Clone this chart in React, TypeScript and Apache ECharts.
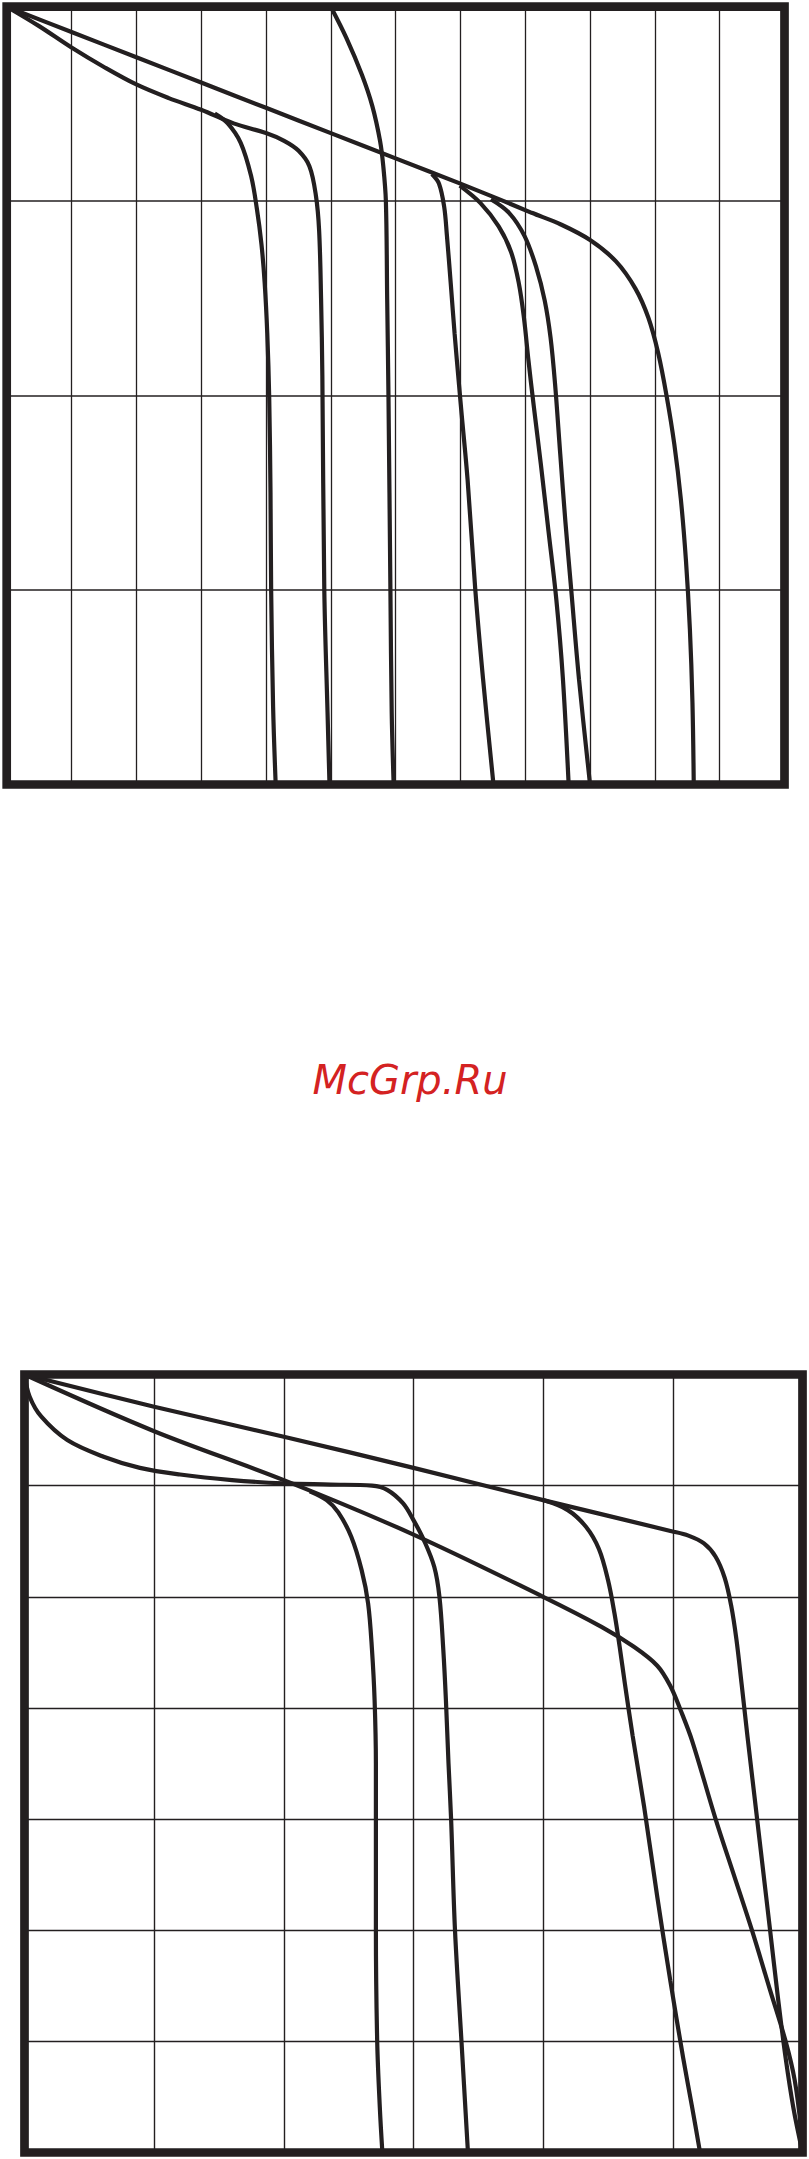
import React, { useEffect, useRef } from "react";
import * as echarts from "echarts";

// Top chart: x 0..12, y 0..4
const topEnvelope: number[][] = [
  [0, 4], [1, 3.87], [2, 3.74], [3, 3.61], [4, 3.48], [5, 3.35], [6, 3.22], [7, 3.09],
  [7.67, 3.0], [8.1, 2.94], [8.55, 2.88], [9.0, 2.8], [9.4, 2.69], [9.7, 2.55],
  [9.9, 2.4], [10.05, 2.22], [10.18, 2.0], [10.3, 1.75], [10.4, 1.47], [10.48, 1.15],
  [10.54, 0.8], [10.58, 0.42], [10.6, 0],
];
const topLower: number[][] = [
  [0, 4], [0.5, 3.9], [1, 3.79], [1.5, 3.69], [2, 3.6], [2.5, 3.53], [3, 3.47],
  [3.5, 3.4], [4, 3.35], [4.28, 3.31], [4.5, 3.26], [4.67, 3.18], [4.77, 3.03],
  [4.82, 2.85], [4.85, 2.5], [4.87, 2.1], [4.9, 1.0], [4.95, 0.37], [4.98, 0],
];
const topBranch: number[][] = [
  [3.21, 3.45], [3.41, 3.4], [3.61, 3.3], [3.77, 3.13], [3.86, 2.96], [3.93, 2.78],
  [3.98, 2.58], [4.02, 2.32], [4.05, 1.99], [4.07, 1.5], [4.08, 1.0], [4.11, 0.4], [4.15, 0],
];
const topSteep: number[][] = [
  [5.0, 4.0], [5.24, 3.84], [5.48, 3.65], [5.64, 3.49], [5.76, 3.31], [5.81, 3.18],
  [5.85, 3.0], [5.87, 2.5], [5.89, 2.0], [5.92, 1.0], [5.94, 0.37], [5.97, 0],
];
const topCurve4: number[][] = [
  [6.56, 3.14], [6.67, 3.09], [6.75, 2.97], [6.79, 2.83], [6.85, 2.58], [6.91, 2.32],
  [6.98, 2.05], [7.02, 1.9], [7.11, 1.57], [7.23, 1.0], [7.35, 0.54], [7.51, 0],
];
const topCurve5: number[][] = [
  [6.99, 3.08], [7.31, 2.99], [7.59, 2.87], [7.78, 2.74], [7.9, 2.58], [7.98, 2.4],
  [8.05, 2.18], [8.13, 1.95], [8.24, 1.65], [8.36, 1.3], [8.48, 0.95], [8.58, 0.55], [8.67, 0],
];
const topCurve6: number[][] = [
  [7.47, 3.01], [7.75, 2.94], [7.99, 2.82], [8.17, 2.66], [8.3, 2.49], [8.39, 2.3],
  [8.46, 2.06], [8.54, 1.7], [8.62, 1.35], [8.71, 1.0], [8.83, 0.54], [9.0, 0],
];

// Bottom chart: x 0..6, y 0..7
const botA: number[][] = [
  [0, 7], [1, 6.71], [2, 6.44], [3, 6.16], [4, 5.87], [4.99, 5.59], [5.12, 5.55],
  [5.24, 5.48], [5.33, 5.36], [5.4, 5.17], [5.45, 4.92], [5.49, 4.62], [5.53, 4.22],
  [5.575, 3.75], [5.63, 3.2], [5.69, 2.6], [5.75, 2.0], [5.81, 1.4], [5.87, 0.85],
  [5.93, 0.4], [6.0, 0],
];
const botE: number[][] = [
  [4.0, 5.87], [4.19, 5.78], [4.33, 5.63], [4.43, 5.43], [4.5, 5.15], [4.55, 4.85],
  [4.59, 4.55], [4.63, 4.22], [4.69, 3.75], [4.78, 3.1], [4.88, 2.3], [4.98, 1.55],
  [5.08, 0.85], [5.15, 0.4], [5.21, 0],
];
const botB: number[][] = [
  [0, 7], [1, 6.49], [2, 6.05], [3, 5.56], [4, 5.0], [4.45, 4.73], [4.7, 4.55],
  [4.88, 4.38], [4.98, 4.2], [5.06, 3.98], [5.15, 3.7], [5.33, 3.0], [5.47, 2.5],
  [5.61, 2.0], [5.75, 1.46], [5.87, 1.0], [5.94, 0.65], [5.99, 0.2], [6.0, 0],
];
const botC: number[][] = [
  [0, 7], [0.04, 6.8], [0.13, 6.62], [0.33, 6.41], [0.61, 6.26], [0.89, 6.16], [1.2, 6.1],
  [1.6, 6.05], [2.0, 6.02], [2.36, 6.01], [2.68, 6.0], [2.8, 5.96], [2.92, 5.84],
  [3.0, 5.69], [3.08, 5.51], [3.16, 5.27], [3.2, 5.0], [3.23, 4.52], [3.25, 4.07],
  [3.27, 3.5], [3.29, 3.0], [3.32, 2.0], [3.37, 1.0], [3.42, 0],
];
const botD: number[][] = [
  [2.2, 5.95], [2.33, 5.87], [2.42, 5.76], [2.52, 5.54], [2.6, 5.24], [2.65, 4.94],
  [2.68, 4.52], [2.7, 4.07], [2.71, 3.5], [2.71, 2.0], [2.72, 1.0], [2.74, 0.41], [2.76, 0],
];

const watermark = "McGrp.Ru";

const INK = "#231f20";

export default function App() {
  const ref = useRef<HTMLDivElement>(null);
  useEffect(() => {
    if (!ref.current) return;
    const chart = echarts.init(ref.current, undefined, { renderer: "svg" });
    const axisCommon = {
      type: "value" as const,
      axisLine: { show: false },
      axisTick: { show: false },
      axisLabel: { show: false },
    };
    const mkLine = (data: number[][], idx: number) => ({
      type: "line" as const,
      xAxisIndex: idx,
      yAxisIndex: idx,
      data,
      showSymbol: false,
      symbol: "none",
      smooth: 0.35,
      lineStyle: { color: INK, width: 4.2 },
      z: 3,
    });
    const topRect = { left: 6.7, top: 6.7, width: 777.8, height: 777.8 };
    const botRect = { left: 24.5, top: 1374.5, width: 778, height: 778 };
    chart.setOption({
      animation: false,
      backgroundColor: "#ffffff",
      grid: [
        { ...topRect, show: false },
        { ...botRect, show: false },
      ],
      xAxis: [
        { ...axisCommon, gridIndex: 0, min: 0, max: 12, interval: 1,
          splitLine: { show: true, lineStyle: { color: INK, width: 1.3 } } },
        { ...axisCommon, gridIndex: 1, min: 0, max: 6, interval: 1,
          splitLine: { show: true, lineStyle: { color: INK, width: 1.4 } } },
      ],
      yAxis: [
        { ...axisCommon, gridIndex: 0, min: 0, max: 4, interval: 1,
          splitLine: { show: true, lineStyle: { color: INK, width: 1.7 } } },
        { ...axisCommon, gridIndex: 1, min: 0, max: 7, interval: 1,
          splitLine: { show: true, lineStyle: { color: INK, width: 1.4 } } },
      ],
      series: [
        mkLine(topEnvelope, 0),
        mkLine(topLower, 0),
        mkLine(topBranch, 0),
        mkLine(topSteep, 0),
        mkLine(topCurve4, 0),
        mkLine(topCurve5, 0),
        mkLine(topCurve6, 0),
        mkLine(botA, 1),
        mkLine(botE, 1),
        mkLine(botB, 1),
        mkLine(botC, 1),
        mkLine(botD, 1),
      ],
      graphic: [
        {
          type: "rect", z: 100,
          shape: { x: topRect.left, y: topRect.top, width: topRect.width, height: topRect.height },
          style: { fill: "none", stroke: INK, lineWidth: 8.7 },
        },
        {
          type: "rect", z: 100,
          shape: { x: botRect.left, y: botRect.top, width: botRect.width, height: botRect.height },
          style: { fill: "none", stroke: INK, lineWidth: 8.7 },
        },
        {
          type: "text", z: 100, x: 410, y: 1080,
          style: {
            text: watermark,
            font: 'italic 40px "DejaVu Sans"',
            fill: "#d42222",
            align: "center",
            verticalAlign: "middle",
          },
        },
      ],
    });
    return () => chart.dispose();
  }, []);
  return (
    <div
      ref={ref}
      style={{ position: "absolute", left: 0, top: 0, width: 809, height: 2159, background: "#fff" }}
    />
  );
}
